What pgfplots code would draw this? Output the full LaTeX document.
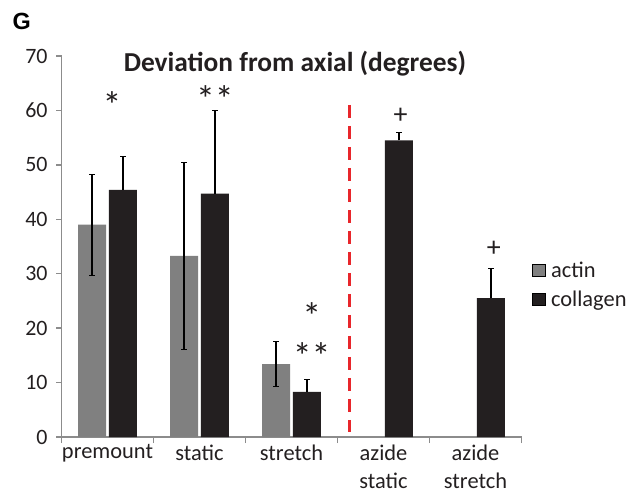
\documentclass[border=0pt]{standalone}
\usepackage{pgfplots}
\pgfplotsset{compat=1.18}
\usepackage{fontspec}
\setmainfont{Carlito}
\newfontfamily\arialfont{Liberation Sans}
\definecolor{actingray}{RGB}{128,128,128}
\definecolor{collblack}{RGB}{35,31,32}
\definecolor{axisgray}{RGB}{140,140,140}
\definecolor{dashred}{RGB}{232,38,43}
\begin{document}
\begin{tikzpicture}
\useasboundingbox (0,0) rectangle (636bp,496bp);
\node[anchor=base west, font=\arialfont\bfseries\fontsize{23.5}{26}\selectfont, inner sep=0pt] at (12.5bp,466.7bp) {G};
\node[anchor=base, font=\bfseries\fontsize{27.5}{30}\selectfont, inner sep=0pt, text=collblack] at (295bp,424bp) {Deviation from axial (degrees)};
\begin{axis}[
  at={(61.5bp,59bp)}, anchor=south west,
  scale only axis, width=460bp, height=381bp,
  xmin=-0.5, xmax=4.5, ymin=0, ymax=70,
  axis x line=bottom, axis y line=left,
  axis line style={axisgray, line width=1.3bp, -},
  ytick={0,10,...,70},
  xtick={0,1,2,3,4},
  xticklabels={premount,static,stretch,{azide\\[0.5bp]static},{azide\\[0.5bp]stretch}},
  xticklabel style={align=center, font=\fontsize{22.5}{28}\selectfont, text=collblack, inner ysep=2bp},
  yticklabel style={font=\fontsize{22}{24}\selectfont, text=collblack, xshift=-5bp},
  major x tick style={draw=none},
  minor xtick={-0.5,0.5,...,4.5},
  tick align=outside,
  major tick length=5.5bp,
  minor tick length=6bp,
  tick style={axisgray, line width=1.3bp},
  /pgf/number format/assume math mode=true,
  clip=false,
  legend cell align=left,
  legend style={at={(1.0228,0.463)}, anchor=north west, draw=none, fill=none,
    font=\fontsize{22.5}{26}\selectfont, row sep=10bp, inner sep=0pt, text=collblack,
    nodes={inner xsep=1bp, inner ysep=1bp},
    /tikz/every odd column/.append style={column sep=5bp}},
  legend image code/.code={\fill[#1] (0bp,-6.25bp) rectangle (12.5bp,6.25bp);},
  error bars/error bar style={black, line width=1.2bp},
  error bars/error mark options={black, line width=1.2bp, mark size=2.8bp, rotate=90},
]
% red dashed separator
\addplot[dashred, line width=3bp, dash pattern=on 13bp off 8bp, forget plot] coordinates {(2.625,61) (2.625,0.9)};
% actin
\addplot[ybar, bar width=0.304, bar shift=0pt, fill=actingray, draw=none, forget plot,
  error bars/.cd, y dir=both, y explicit]
  coordinates {(-0.168,39.0) +- (0,9.3) (0.832,33.3) +- (0,17.2) (1.832,13.4) +- (0,4.15)};
% collagen
\addplot[ybar, bar width=0.304, bar shift=0pt, fill=collblack, draw=none, forget plot,
  error bars/.cd, y dir=plus, y explicit]
  coordinates {(0.168,45.4) +- (0,6.2) (1.168,44.7) +- (0,15.3) (2.168,8.3) +- (0,2.2) (3.168,54.5) +- (0,1.4) (4.168,25.5) +- (0,5.4)};
\addlegendimage{fill=actingray}
\addlegendentry{actin}
\addlegendimage{fill=collblack}
\addlegendentry{collagen}
% significance marks
\node[font=\fontsize{38}{40}\selectfont, text=collblack] at (axis cs:0.05,61.0) {*};
\node[font=\fontsize{38}{40}\selectfont, text=collblack] at (axis cs:1.168,62.0) {**};
\node[font=\fontsize{38}{40}\selectfont, text=collblack] at (axis cs:2.22,22.3) {*};
\node[font=\fontsize{38}{40}\selectfont, text=collblack] at (axis cs:2.22,14.8) {**};
\node[font=\fontsize{28}{30}\selectfont, text=collblack] at (axis cs:3.185,59) {+};
\node[font=\fontsize{28}{30}\selectfont, text=collblack] at (axis cs:4.20,34.6) {+};
\end{axis}
\end{tikzpicture}
\end{document}
